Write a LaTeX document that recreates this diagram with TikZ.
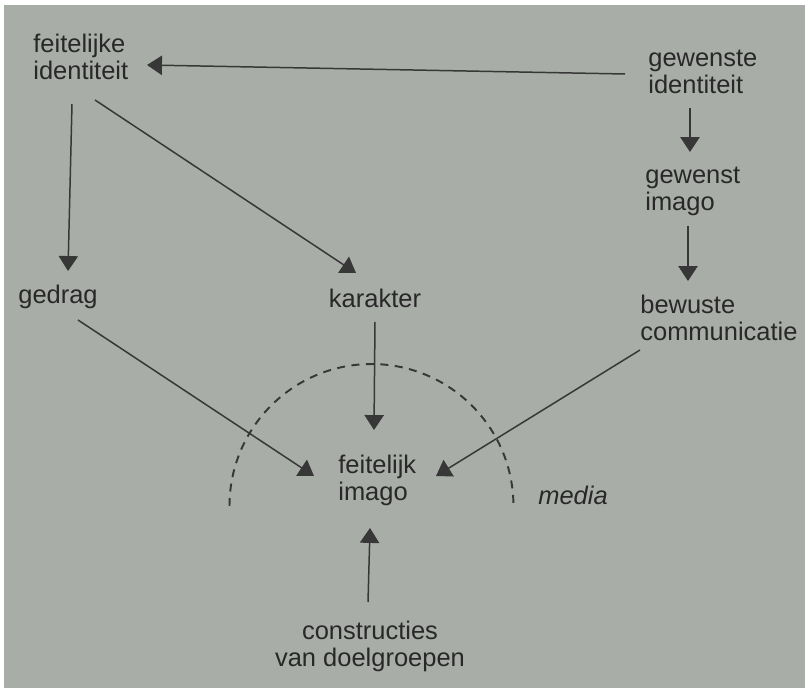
\documentclass[tikz,border=0pt]{standalone}
\usepackage{fontspec}
\setmainfont{Liberation Sans}
\usetikzlibrary{arrows.meta,calc}
\definecolor{paper}{RGB}{169,173,168}
\definecolor{ink}{RGB}{40,40,40}
\definecolor{lineink}{RGB}{55,55,55}
\tikzset{
  lbl/.style={inner sep=0pt,text=ink,font=\fontsize{14.5}{15.4}\selectfont},
  lblL/.style={lbl,align=left,anchor=west},
  lblC/.style={lbl,align=center},
  arr/.style={draw=lineink,line width=0.85pt,-{Triangle[length=8.5pt,width=11pt]}},
  mediaarc/.style={draw=lineink,line width=1.1pt,dash pattern=on 0.16cm off 0.13cm}
}
\begin{document}
\begin{tikzpicture}[x=0.02cm,y=0.02cm]
\useasboundingbox (0,0) rectangle (805,-688);
\fill[white] (0,0) rectangle (805,-688);
\fill[paper] (4,-5) rectangle (805,-688);
% nodes
\node[lblL] (fi) at (33,-57) {feitelijke\\identiteit};
\node[lblL] (gi) at (648,-72) {gewenste\\identiteit};
\node[lblL] (gim) at (645,-191) {gewenst\\imago};
\node[lblL] (bc) at (640,-318) {bewuste\\communicatie};
\node[lblC] (ged) at (58,-297) {gedrag};
\node[lblC] (ka) at (375,-298) {karakter};
\node[lblL] (fim) at (338,-480) {feitelijk\\imago};
\node[lblC,font=\fontsize{14.5}{15.4}\selectfont\itshape] (med) at (573,-495) {media};
\node[lblC] (con) at (370,-646) {constructies\\van doelgroepen};
% media arc
\draw[mediaarc] (229.5,-506) arc[start angle=180,end angle=0,radius=2.84cm];
% connectors
\draw[arr] ($(gi.west)+(-23,-2)$) -- ($(fi.west)+(114,-8)$);
\draw[arr] ($(gi.west)+(42,-36)$) -- ($(gim.west)+(45,39)$);
\draw[arr] ($(gim.west)+(43,-35)$) -- ($(bc.west)+(48,37)$);
\draw[arr] ($(fi.west)+(39,-47)$) -- ($(ged.center)+(10,26)$);
\draw[arr] ($(fi.west)+(62,-43)$) -- ($(ka.center)+(-19,25)$);
\draw[arr] ($(ka.center)+(0,-24)$) -- ($(fim.west)+(36,50)$);
\draw[arr] ($(ged.center)+(20,-23)$) -- ($(fim.west)+(-24,4)$);
\draw[arr] ($(bc.west)+(0,-32)$) -- ($(fim.west)+(98,4)$);
\draw[arr] ($(con.center)+(-2,44)$) -- ($(fim.west)+(32,-48)$);
\end{tikzpicture}
\end{document}
